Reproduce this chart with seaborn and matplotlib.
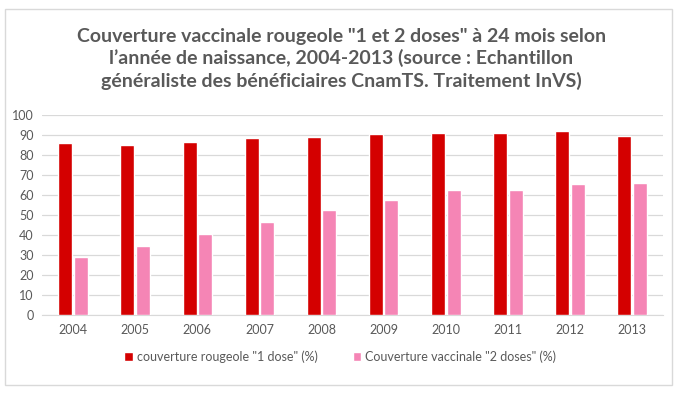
import matplotlib
matplotlib.use("Agg")

import matplotlib.pyplot as plt
from matplotlib.patches import Rectangle
import pandas as pd
import seaborn as sns

# ─── DATA ────────────────────────────────────────────────────────
YEARS = ["2004", "2005", "2006", "2007", "2008", "2009", "2010", "2011", "2012", "2013"]
ONE_DOSE = [86.0, 85.3, 86.8, 88.8, 89.2, 90.5, 91.3, 91.3, 92.2, 89.7]
TWO_DOSES = [29.2, 34.8, 40.8, 46.5, 52.5, 57.7, 62.7, 62.7, 65.7, 66.0]
SERIES = ['couverture rougeole "1 dose" (%)', 'Couverture vaccinale "2 doses" (%)']
TITLE = ('Couverture vaccinale rougeole "1 et 2 doses" à 24 mois selon\n'
         'l\u2019année de naissance, 2004-2013 (source : Echantillon\n'
         'généraliste des bénéficiaires CnamTS. Traitement InVS)')

RED = "#D40000"
PINK = "#F585B5"
FG = "#595959"
GRID = "#D9D9D9"

df = pd.DataFrame({
    "year": YEARS * 2,
    "value": ONE_DOSE + TWO_DOSES,
    "series": [SERIES[0]] * len(YEARS) + [SERIES[1]] * len(YEARS),
})

sns.set_style("white")
plt.rcParams["font.family"] = ["Lato", "DejaVu Sans"]

fig = plt.figure(figsize=(6.83, 3.97), dpi=100, facecolor="white")
ax = fig.add_axes([0.0615, 0.206, 0.9095, 0.5036])

sns.barplot(data=df, x="year", y="value", hue="series", order=YEARS,
            hue_order=SERIES, palette=[RED, PINK], width=0.5, gap=0.1,
            saturation=1, ax=ax, zorder=3)

ax.set_ylim(0, 100)
ax.set_xlim(-0.5, len(YEARS) - 0.5)
ax.set_yticks(range(0, 101, 10))
ax.yaxis.grid(True, color=GRID, linewidth=0.9, zorder=0)
ax.set_axisbelow(True)
for side in ["top", "right", "left"]:
    ax.spines[side].set_visible(False)
ax.spines["bottom"].set_color(GRID)
ax.tick_params(axis="both", colors=FG, labelsize=9, length=0, pad=6)
ax.set_xlabel("")
ax.set_ylabel("")

ax.legend(loc="upper center", bbox_to_anchor=(0.48, -0.12), ncol=2,
          frameon=False, fontsize=9, labelcolor=FG, handlelength=0.7,
          handleheight=0.7, handletextpad=0.3, columnspacing=2.8)

fig.text(0.5, 0.93, TITLE, ha="center", va="top", fontsize=14,
         fontweight="bold", color=FG, linespacing=1.3)

fig.patches.append(Rectangle((0.007, 0.03), 0.977, 0.948, transform=fig.transFigure,
                             fill=False, edgecolor=GRID, linewidth=1))

fig.savefig("out.png", dpi=100, facecolor="white")
